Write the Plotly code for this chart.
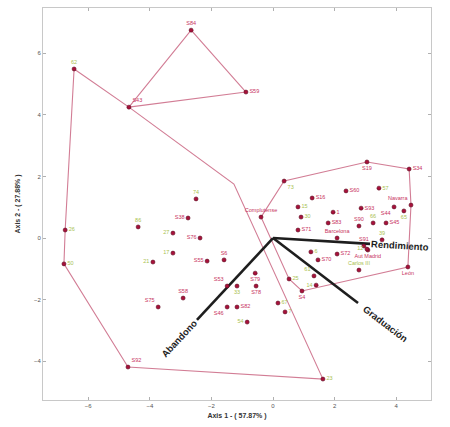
import math
import plotly.graph_objects as go

# ---------------- data ----------------
names = ["62", "S43", "S84", "S59", "26", "50", "S92", "23", "74", "S38",
         "86", "27", "S76", "17", "21", "S55", "S6", "S53", "33", "S79",
         "S78", "S58", "S75", "S46", "S82", "54", "67", "7", "25", "61",
         "14", "S4", "73", "Complutense", "S16", "15", "30", "1", "S83", "S71",
         "Barcelona", "S60", "6", "S70", "S72", "S19", "S34", "57", "S93", "S44",
         "Navarra", "65", "S90", "66", "S45", "S91", "12", "Aut Madrid", "39", "Carlos III",
         "León"]
axis1 = [-6.46, -4.68, -2.66, -0.88, -6.75, -6.79, -4.71, 1.62, -2.50, -2.76,
         -4.38, -3.25, -2.37, -3.25, -3.90, -2.14, -1.59, -1.49, -1.17, -0.58,
         -0.55, -2.92, -3.73, -1.49, -1.17, -0.84, 0.16, 0.39, 0.52, 1.33,
         1.40, 0.94, 0.36, -0.39, 1.27, 0.81, 0.91, 1.95, 1.79, 0.81,
         2.08, 2.37, 1.23, 1.46, 2.08, 3.05, 4.42, 3.44, 2.86, 3.93,
         4.48, 4.25, 2.79, 3.25, 3.67, 2.95, 3.05, 3.08, 3.54, 2.79,
         4.38]
axis2 = [5.49, 4.25, 6.75, 4.74, 0.26, -0.84, -4.19, -4.58, 1.27, 0.65,
         0.36, 0.16, 0.00, -0.49, -0.78, -0.75, -0.71, -1.56, -1.56, -1.14,
         -1.56, -1.95, -2.24, -2.24, -2.24, -2.73, -2.11, -2.40, -1.33, -1.23,
         -1.53, -1.72, 1.85, 0.68, 1.30, 1.01, 0.68, 0.84, 0.49, 0.26,
         0.00, 1.53, -0.45, -0.71, -0.52, 2.47, 2.24, 1.62, 0.97, 1.01,
         1.07, 0.88, 0.39, 0.49, 0.49, -0.26, -0.36, -0.39, -0.06, -1.04,
         -0.94]
# label class: "num" labels are green, "name" labels are red
label_class = ["num", "name", "name", "name", "num", "num", "name", "num", "num", "name",
               "num", "num", "name", "num", "num", "name", "name", "name", "num", "name",
               "name", "name", "name", "name", "name", "num", "num", "num", "num", "num",
               "num", "name", "num", "name", "name", "num", "num", "name", "name", "name",
               "name", "name", "num", "name", "name", "name", "name", "num", "name", "name",
               "name", "num", "name", "num", "name", "name", "num", "name", "num", "num",
               "name"]

# group hulls (by member names; one vertex of the big hull has no labelled point)
hull_big = ["62", "S43", (-1.27, 1.75), "23", "S92", "50", "26"]
hull_top = ["S43", "S84", "S59"]
hull_right = ["Complutense", "73", "S19", "S34", "Navarra", "León", "S4", "25"]

# variable loadings (biplot vectors)
var_names = ["Rendimiento", "Graduación", "Abandono"]
var_x = [3.15, 2.76, -2.47]
var_y = [-0.19, -2.11, -2.66]

x_ticks = [-6, -4, -2, 0, 2, 4]
y_ticks = [-4, -2, 0, 2, 4, 6]
x_title = "Axis 1 - ( 57.87% )"
y_title = "Axis 2 - ( 27.88% )"

# ---------------- styling ----------------
label_pos = {
    "62": "top center", "S43": "top right", "S84": "top center", "S59": "middle right",
    "26": "middle right", "50": "middle right", "S92": "top right", "23": "middle right",
    "74": "top center", "S38": "middle left", "86": "top center", "27": "middle left",
    "S76": "middle left", "17": "middle left", "21": "middle left", "S55": "middle left",
    "S6": "top center", "S53": "top left", "33": "bottom center", "S79": "bottom center",
    "S78": "bottom center", "S58": "top center", "S75": "top left", "S46": "bottom left",
    "S82": "middle right", "54": "middle left", "67": "middle right", "7": "middle right",
    "25": "middle right", "61": "top left", "14": "middle left", "S4": "bottom center",
    "73": "bottom right", "Complutense": "top center", "S16": "middle right",
    "15": "middle right", "30": "middle right", "1": "middle right", "S83": "middle right",
    "S71": "middle right", "Barcelona": "top center", "S60": "middle right",
    "6": "middle right", "S70": "middle right", "S72": "middle right", "S19": "bottom center",
    "S34": "middle right", "57": "middle right", "S93": "middle right", "S44": "bottom left",
    "Navarra": "top left", "65": "bottom center", "S90": "top center", "66": "top center",
    "S45": "middle right", "S91": "top center", "12": "middle left", "Aut Madrid": "bottom center",
    "39": "top center", "Carlos III": "top center", "León": "bottom center",
}
RED_TXT = "#c8335e"
GREEN_TXT = "#a9c24f"
HULL = "#d27d95"
MARK = "#a8103a"
FONT = "Liberation Sans, Arial, sans-serif"

pt = {n: (a, b) for n, a, b in zip(names, axis1, axis2)}


def hull_xy(members):
    xs, ys = [], []
    for m in members + [members[0]]:
        x, y = pt[m] if isinstance(m, str) else m
        xs.append(x)
        ys.append(y)
    return xs, ys


fig = go.Figure()
for h in (hull_big, hull_top, hull_right):
    hx, hy = hull_xy(h)
    fig.add_trace(go.Scatter(x=hx, y=hy, mode="lines",
                             line=dict(color=HULL, width=1.1),
                             hoverinfo="skip", showlegend=False))

# biplot vectors
for vn, vx, vy in zip(var_names, var_x, var_y):
    fig.add_trace(go.Scatter(x=[0, vx], y=[0, vy], mode="lines",
                             line=dict(color="#1e1e1e", width=2.6),
                             hoverinfo="skip", showlegend=False))

for cls, col in (("name", RED_TXT), ("num", GREEN_TXT)):
    idx = [i for i, c in enumerate(label_class) if c == cls]
    fig.add_trace(go.Scatter(
        x=[axis1[i] for i in idx], y=[axis2[i] for i in idx],
        mode="markers+text",
        text=[names[i] for i in idx],
        textposition=[label_pos[names[i]] for i in idx],
        textfont=dict(family=FONT, size=5.5, color=col),
        marker=dict(size=4, color=MARK, line=dict(color="#5a0a1e", width=0.6)),
        showlegend=False, hoverinfo="text"))

label_gap = {"Rendimiento": 30, "Graduación": 34, "Abandono": 26}
for vn, vx, vy in zip(var_names, var_x, var_y):
    ang = math.degrees(math.atan2(-vy, vx))  # screen angle (clockwise)
    if ang > 90:
        ang -= 180
    if ang < -90:
        ang += 180
    L = math.hypot(vx, vy)
    ux, uy = vx / L, vy / L
    g = label_gap[vn]
    fig.add_annotation(x=vx, y=vy, text="<b>" + vn + "</b>", showarrow=False,
                       xshift=ux * g, yshift=uy * g, textangle=ang,
                       font=dict(family=FONT, size=9.5, color="#1e1e1e"))

axis_common = dict(showgrid=False, zeroline=False, showline=True, linecolor="#c8c8c8",
                   linewidth=1, mirror="ticks", ticks="inside", ticklen=3,
                   tickcolor="#b0b0b0", tickfont=dict(family=FONT, size=6, color="#555555"))
fig.update_xaxes(range=[-7.47, 5.13], tickvals=x_ticks,
                 title=dict(text="<b>" + x_title + "</b>", standoff=4,
                            font=dict(family=FONT, size=7, color="#333333")),
                 **axis_common)
fig.update_yaxes(range=[-5.26, 7.47], tickvals=y_ticks,
                 title=dict(text="<b>" + y_title + "</b>", standoff=12,
                            font=dict(family=FONT, size=7, color="#333333")),
                 **axis_common)
fig.update_layout(width=450, height=427, margin=dict(l=43, r=19, t=8, b=27),
                  plot_bgcolor="white", paper_bgcolor="white")
fig.write_html("out.html")
